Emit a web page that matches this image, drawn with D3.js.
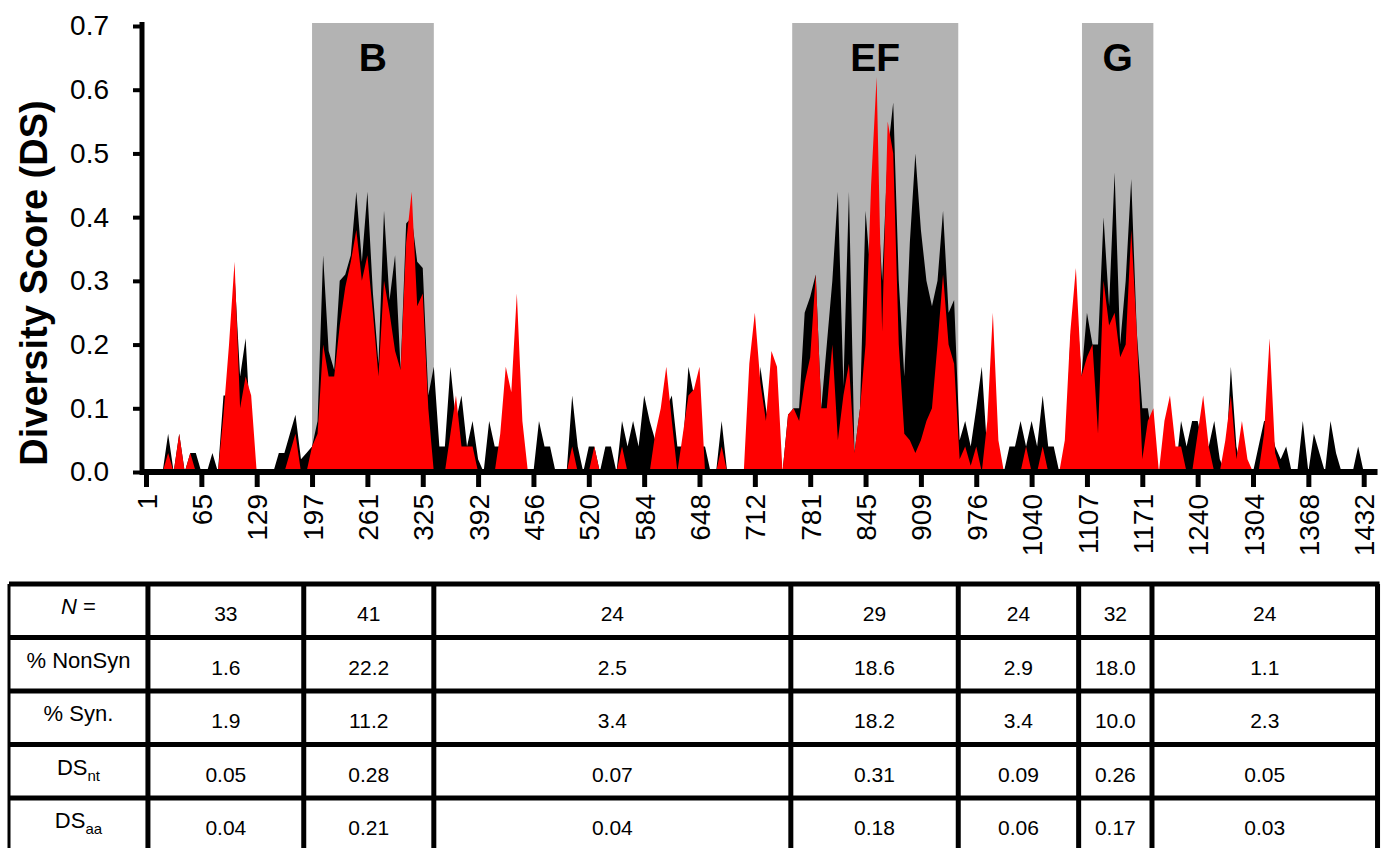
<!DOCTYPE html>
<html>
<head>
<meta charset="utf-8">
<script src="https://cdn.jsdelivr.net/npm/d3@7"></script>
<style>
  body { margin: 0; background: #fff; }
  svg { display: block; font-family: "Liberation Sans", Arial, sans-serif; }
</style>
</head>
<body>
<svg width="1385" height="848"></svg>
<script>
// x axis tick labels (nucleotide positions), one every 20 windows
const tickLabels = [1, 65, 129, 197, 261, 325, 392, 456, 520, 584, 648, 712, 781, 845, 909, 976, 1040, 1107, 1171, 1240, 1304, 1368, 1432];

// diversity scores, one value every 2 windows
const ntScores = [
  0, 0, 0, 0, 0.06, 0, 0.06, 0, 0.03, 0.03,
  0, 0, 0.03, 0, 0.12, 0.12, 0.31, 0.15, 0.21, 0.05,
  0, 0, 0, 0, 0.03, 0.03, 0.06, 0.09, 0.02, 0.03,
  0.04, 0.08, 0.34, 0.19, 0.16, 0.30, 0.31, 0.34, 0.44, 0.33,
  0.44, 0.28, 0.17, 0.41, 0.27, 0.34, 0.16, 0.39, 0.40, 0.33,
  0.32, 0.12, 0.165, 0.04, 0.04, 0.165, 0.08, 0.12, 0.04, 0.08,
  0.02, 0, 0.08, 0.04, 0.04, 0.04, 0, 0, 0, 0,
  0, 0.08, 0.04, 0.04, 0, 0, 0, 0.12, 0.04, 0,
  0.04, 0.04, 0, 0.04, 0.04, 0, 0.08, 0.04, 0.08, 0.04,
  0.12, 0.08, 0.05, 0.08, 0.10, 0.12, 0.04, 0.04, 0.165, 0.12,
  0.04, 0.04, 0, 0, 0.08, 0, 0, 0, 0, 0,
  0, 0.165, 0.10, 0.05, 0, 0, 0.09, 0.10, 0.10, 0.25,
  0.275, 0.31, 0.10, 0.20, 0.30, 0.44, 0.135, 0.44, 0.03, 0.10,
  0.41, 0.30, 0.45, 0.30, 0.50, 0.58, 0.30, 0.15, 0.36, 0.50,
  0.38, 0.30, 0.26, 0.30, 0.41, 0.25, 0.27, 0.05, 0.08, 0.04,
  0.10, 0.165, 0.03, 0, 0, 0, 0.04, 0.04, 0.08, 0.04,
  0.08, 0.04, 0.12, 0.04, 0.04, 0, 0, 0.21, 0.28, 0.15,
  0.25, 0.20, 0.20, 0.40, 0.26, 0.47, 0.20, 0.30, 0.46, 0.22,
  0.10, 0.10, 0.04, 0, 0, 0, 0, 0.08, 0.04, 0.08,
  0.08, 0.04, 0.04, 0.08, 0.02, 0, 0.165, 0.04, 0, 0,
  0, 0.04, 0.08, 0.08, 0.04, 0.02, 0.04, 0, 0, 0.08,
  0, 0.06, 0.03, 0, 0.08, 0.03, 0, 0, 0, 0.04,
  0, 0, 0
];
const aaScores = [
  0, 0, 0, 0, 0.03, 0, 0.06, 0, 0.03, 0,
  0, 0, 0, 0, 0.09, 0.20, 0.33, 0.10, 0.15, 0.12,
  0, 0, 0, 0, 0, 0, 0.03, 0.06, 0, 0,
  0.04, 0.06, 0.20, 0.15, 0.15, 0.23, 0.29, 0.33, 0.38, 0.30,
  0.34, 0.25, 0.15, 0.30, 0.25, 0.19, 0.16, 0.36, 0.44, 0.26,
  0.28, 0.10, 0, 0, 0, 0.06, 0.12, 0.04, 0.04, 0.04,
  0, 0, 0, 0, 0.06, 0.165, 0.125, 0.28, 0.08, 0,
  0, 0, 0, 0, 0, 0, 0, 0.04, 0, 0,
  0, 0.04, 0, 0, 0, 0, 0.04, 0, 0, 0,
  0, 0, 0.06, 0.10, 0.165, 0.08, 0, 0.06, 0.12, 0.13,
  0.165, 0, 0, 0, 0.04, 0, 0, 0, 0, 0.17,
  0.25, 0.14, 0.08, 0.19, 0.165, 0, 0.09, 0.10, 0.08, 0.14,
  0.18, 0.31, 0.10, 0.10, 0.20, 0.05, 0.12, 0.17, 0.03, 0.10,
  0.20, 0.45, 0.62, 0.22, 0.55, 0.50, 0.20, 0.06, 0.05, 0.03,
  0.05, 0.08, 0.10, 0.20, 0.31, 0.20, 0.17, 0.02, 0.04, 0.01,
  0.04, 0, 0.08, 0.25, 0.05, 0, 0, 0, 0, 0.04,
  0, 0, 0.04, 0, 0, 0, 0.05, 0.22, 0.32, 0.15,
  0.18, 0.20, 0.06, 0.30, 0.23, 0.25, 0.18, 0.20, 0.38, 0.22,
  0.02, 0.08, 0.10, 0, 0.08, 0.12, 0.04, 0.04, 0, 0,
  0.06, 0.12, 0.04, 0, 0, 0.05, 0.12, 0.02, 0.08, 0.02,
  0, 0, 0.06, 0.21, 0.03, 0, 0, 0, 0, 0,
  0, 0, 0, 0, 0, 0, 0, 0, 0, 0,
  0, 0, 0
];
const step = 2;

// shaded regions, in window units
const regions = [
  { name: "B", from: 60, to: 104 },
  { name: "EF", from: 233.5, to: 293.5 },
  { name: "G", from: 338.2, to: 364 }
];

// table below the chart
const rowLabels = ["N =", "% NonSyn", "% Syn.", "DSnt", "DSaa"];
const colEdges = [0.7, 57, 104, 233, 293.5, 337, 363.5, 445];
const nValues = ["33", "41", "24", "29", "24", "32", "24"];
const nonSynValues = ["1.6", "22.2", "2.5", "18.6", "2.9", "18.0", "1.1"];
const synValues = ["1.9", "11.2", "3.4", "18.2", "3.4", "10.0", "2.3"];
const dsNtValues = ["0.05", "0.28", "0.07", "0.31", "0.09", "0.26", "0.05"];
const dsAaValues = ["0.04", "0.21", "0.04", "0.18", "0.06", "0.17", "0.03"];
const tableRows = [nValues, nonSynValues, synValues, dsNtValues, dsAaValues];

const svg = d3.select("svg");

const x = d3.scaleLinear().domain([0, 440]).range([146, 1363.7]);
const y = d3.scaleLinear().domain([0, 0.7]).range([472, 26]);

// shaded regions
svg.append("g")
  .selectAll("rect")
  .data(regions)
  .join("rect")
    .attr("x", d => x(d.from))
    .attr("width", d => x(d.to) - x(d.from))
    .attr("y", y(0.7) - 3)
    .attr("height", y(0) - y(0.7) + 3)
    .attr("fill", "#b3b3b3");

svg.append("g")
  .selectAll("text")
  .data(regions)
  .join("text")
    .attr("x", d => (x(d.from) + x(d.to)) / 2)
    .attr("y", 71)
    .attr("text-anchor", "middle")
    .attr("font-size", 39)
    .attr("font-weight", "bold")
    .text(d => d.name);

// areas
const area = d3.area()
  .x((d, i) => x(i * step))
  .y0(y(0))
  .y1(d => y(d));

svg.append("path").datum(ntScores).attr("d", area).attr("fill", "#000");
svg.append("path").datum(aaScores).attr("d", area).attr("fill", "#ff0000");

// y axis
const yAxis = svg.append("g")
  .attr("transform", "translate(142,0)")
  .call(d3.axisLeft(y)
    .tickValues(d3.range(0, 8).map(d => d / 10))
    .tickFormat(d3.format(".1f"))
    .tickSize(9)
    .tickSizeOuter(0)
    .tickPadding(24));
yAxis.select(".domain").remove();
yAxis.selectAll(".tick line").attr("stroke-width", 4);
yAxis.selectAll(".tick text").attr("font-size", 28).attr("fill", "#000");
svg.append("line")
  .attr("x1", 142).attr("x2", 142)
  .attr("y1", y(0.7) - 4).attr("y2", y(0) + 3)
  .attr("stroke", "#000").attr("stroke-width", 5);

svg.append("text")
  .attr("transform", "translate(47,283) rotate(-90)")
  .attr("text-anchor", "middle")
  .attr("font-size", 38)
  .attr("font-weight", "bold")
  .text("Diversity Score (DS)");

// x axis
const xAxis = svg.append("g")
  .attr("transform", `translate(0,${y(0)})`)
  .call(d3.axisBottom(x)
    .tickValues(d3.range(0, 441, 20))
    .tickFormat((d, i) => tickLabels[i])
    .tickSize(15)
    .tickSizeOuter(0));
xAxis.select(".domain").remove();
xAxis.selectAll(".tick line").attr("stroke-width", 5);
xAxis.selectAll(".tick text")
  .attr("font-size", 28)
  .attr("fill", "#000")
  .attr("text-anchor", "end")
  .attr("transform", "rotate(-90)")
  .attr("x", -22)
  .attr("y", 0)
  .attr("dy", "0.36em");
svg.append("line")
  .attr("x1", 140).attr("x2", x(445))
  .attr("y1", y(0)).attr("y2", y(0))
  .attr("stroke", "#000").attr("stroke-width", 6);

// table
const tableTop = 584;
const rowH = 53.5;
const leftEdge = 9;
const colX = colEdges.map(d => x(d));
const table = svg.append("g");

table.selectAll("line.h")
  .data(d3.range(0, tableRows.length + 1))
  .join("line")
    .attr("class", "h")
    .attr("x1", leftEdge).attr("x2", colX[colX.length - 1] + 2)
    .attr("y1", d => tableTop + d * rowH).attr("y2", d => tableTop + d * rowH)
    .attr("stroke", "#000").attr("stroke-width", 5);

table.selectAll("line.v")
  .data(colX)
  .join("line")
    .attr("class", "v")
    .attr("x1", d => d).attr("x2", d => d)
    .attr("y1", tableTop).attr("y2", tableTop + tableRows.length * rowH)
    .attr("stroke", "#000").attr("stroke-width", 5);

table.append("line")
  .attr("x1", leftEdge).attr("x2", leftEdge)
  .attr("y1", tableTop).attr("y2", tableTop + tableRows.length * rowH)
  .attr("stroke", "#000").attr("stroke-width", 3);

// row labels
const labelCx = (leftEdge + colX[0]) / 2;
rowLabels.forEach((lab, r) => {
  const t = table.append("text")
    .attr("x", labelCx)
    .attr("y", tableTop + r * rowH + 30)
    .attr("text-anchor", "middle")
    .attr("font-size", 22);
  if (lab === "N =") {
    t.append("tspan").attr("font-style", "italic").text("N");
    t.append("tspan").text(" =");
  } else if (lab.startsWith("DS")) {
    t.append("tspan").text("DS");
    t.append("tspan").attr("font-size", 15).attr("dy", 6).text(lab.slice(2));
  } else {
    t.text(lab);
  }
});

// cell values
tableRows.forEach((vals, r) => {
  table.append("g")
    .selectAll("text")
    .data(vals)
    .join("text")
      .attr("x", (d, i) => (colX[i] + colX[i + 1]) / 2)
      .attr("y", tableTop + r * rowH + 37)
      .attr("text-anchor", "middle")
      .attr("font-size", 21)
      .text(d => d);
});
</script>
</body>
</html>
